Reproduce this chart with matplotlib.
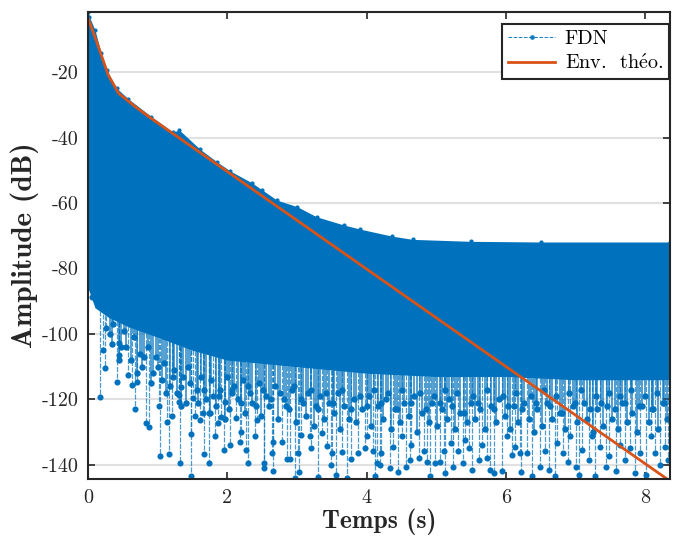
import numpy as np
import matplotlib.pyplot as plt
from matplotlib.lines import Line2D

plt.rcParams['font.family'] = ['cmr10', 'DejaVu Serif']
plt.rcParams['mathtext.fontset'] = 'cm'
plt.rcParams['axes.unicode_minus'] = False
plt.rcParams['axes.formatter.use_mathtext'] = False

# theoretical envelope (s, dB)
env_t = [0, 0.15, 0.29, 0.44, 0.68, 0.89, 2.0, 4.0, 6.0, 8.35]
env_db = [-3.5, -12.3, -20.9, -26.5, -30.6, -33.9, -50.4, -80.2, -110.0, -144.9]

# FDN response: upper edge of the samples
fdn_top_t = [0, 0.02, 0.1, 0.19, 0.27, 0.41, 0.58, 0.91, 1.22, 1.31, 1.61, 1.85,
             2.04, 2.35, 2.5, 2.71, 3.0, 3.28, 3.67, 3.91, 4.36, 4.66, 5.49, 6.5, 8.35]
fdn_top_db = [-1.6, -3.1, -7.2, -14.2, -19.4, -24.9, -28.2, -33.6, -38.3, -37.7, -43.6, -47.4,
              -50.2, -53.8, -56.0, -59.1, -61.1, -64.2, -66.7, -68.0, -70.1, -71.1, -71.7, -71.9, -71.9]

# lower edge of the dense part
fdn_floor_t = [0, 0.1, 0.3, 0.6, 1.0, 1.5, 2.0, 3.0, 4.0, 5.0, 6.0, 7.0, 8.35]
fdn_floor_db = [-86, -92, -95, -98, -101, -105, -108, -110, -112, -113, -113, -114, -114]

# isolated deep samples
deep_t = [0.05, 0.14, 0.17, 0.22, 0.24, 0.26, 0.42, 0.44, 0.44, 0.57, 0.63, 0.68, 0.70, 0.83,
          0.88, 1.03, 1.02, 1.13, 1.16, 1.20, 1.30, 1.31, 1.32, 1.33, 1.48, 1.48, 1.50, 1.53,
          1.60, 1.65, 1.67, 1.73, 1.74, 1.80, 1.82, 1.86, 1.91, 1.95, 1.96, 2.04, 2.06, 2.12,
          2.18, 2.19, 2.27, 2.29, 2.39, 2.42, 2.52, 2.53, 2.65, 2.64, 2.66, 2.78, 2.85, 2.90,
          2.97, 3.03, 3.02, 3.06, 3.19, 3.20, 3.30, 3.36, 3.43, 3.50, 3.49, 3.56, 3.64, 3.71,
          3.77, 3.88, 3.97, 4.00, 4.09, 4.12, 4.14, 4.19, 4.21, 4.33, 4.38, 4.45, 4.50, 4.57,
          4.62, 4.64, 4.75, 4.82, 4.86, 4.91, 4.98, 5.05, 5.11, 5.12, 5.21, 5.24, 5.31, 5.38,
          5.41, 5.47, 5.51, 5.61, 5.65, 5.73, 5.77, 5.82, 5.94, 6.01, 6.08, 6.13, 6.20, 6.22,
          6.30, 6.37, 6.49, 6.56, 6.61, 6.70, 6.73, 6.82, 6.89, 6.92, 7.00, 7.04, 7.09, 7.19,
          7.23, 7.28, 7.35, 7.43, 7.47, 7.57, 7.64, 7.71, 7.78, 7.85, 7.92, 8.01, 8.08, 8.14,
          8.21, 8.28, 8.33]
deep_db = [-88.6, -90.1, -119.3, -104.9, -110.5, -98.3, -114.8, -102.8, -106.4, -112.5, -115.6,
           -123.0, -114.7, -127.3, -128.3, -137.2, -121.9, -126.8, -136.6, -125.0, -118.6, -120.7,
           -139.5, -116.1, -143.5, -130.5, -119.6, -125.2, -126.2, -124.2, -136.6, -124.2, -139.3,
           -119.1, -131.3, -127.3, -125.4, -135.4, -120.7, -133.9, -117.1, -125.7, -132.9, -129.8,
           -135.4, -139.3, -131.3, -126.2, -139.3, -141.0, -141.8, -136.4, -132.9, -133.1, -138.3,
           -138.3, -143.9, -142.3, -136.4, -130.8, -131.3, -134.9, -143.8, -130.3, -134.1, -136.4,
           -140.0, -143.0, -136.2, -144.0, -138.3, -136.4, -134.9, -131.3, -135.9, -143.5, -139.5,
           -140.0, -136.4, -141.0, -134.4, -142.3, -131.3, -140.5, -138.5, -133.9, -138.0, -135.9,
           -139.0, -143.5, -139.3, -139.0, -135.9, -142.5, -133.4, -140.5, -135.9, -139.5, -132.4,
           -134.9, -141.5, -138.5, -133.9, -138.0, -141.5, -142.5, -142.0, -131.3, -136.9, -134.4,
           -136.4, -142.3, -136.4, -143.5, -140.5, -135.9, -141.5, -143.5, -133.4, -136.4, -139.0,
           -131.3, -140.5, -143.0, -135.4, -138.5, -131.3, -143.5, -134.4, -140.5, -137.4, -142.0,
           -133.9, -138.5, -134.9, -142.5, -136.4, -143.0, -131.3, -136.4, -140.0, -134.4, -138.5]

# samples just below the dense part
fringe_t = [0.32, 0.35, 0.36, 0.45, 0.48, 0.52, 0.55, 0.61, 0.66, 0.70, 0.74, 0.78, 0.81, 0.86,
            0.90, 0.93, 0.97, 1.00, 1.06, 1.09, 1.12, 1.17, 1.22, 1.24, 1.27, 1.34, 1.36, 1.41,
            1.44, 1.46, 1.56, 1.58, 1.62, 1.66, 1.69, 1.75, 1.77, 1.84, 1.88, 1.89, 1.97, 1.99,
            2.02, 2.07, 2.09, 2.15, 2.20, 2.22, 2.25, 2.30, 2.33, 2.36, 2.41, 2.45, 2.48, 2.51,
            2.56, 2.60, 2.63, 2.69, 2.73, 2.76, 2.81, 2.84, 2.88, 2.93, 2.96, 2.99, 3.05, 3.09,
            3.13, 3.16, 3.20, 3.24, 3.27, 3.30, 3.33, 3.39, 3.42, 3.46, 3.51, 3.53, 3.59, 3.62,
            3.65, 3.68, 3.74, 3.78, 3.81, 3.85, 3.90, 3.93, 4.00, 4.03, 4.06, 4.10, 4.16, 4.20,
            4.24, 4.28, 4.31, 4.35, 4.41, 4.44, 4.48, 4.51, 4.54, 4.60, 4.63, 4.68, 4.72, 4.76,
            4.79, 4.85, 4.89, 4.94, 4.97, 5.01, 5.05, 5.08, 5.13, 5.15, 5.18, 5.23, 5.27, 5.30,
            5.34, 5.39, 5.44, 5.49, 5.52, 5.56, 5.60, 5.63, 5.69, 5.72, 5.79, 5.83, 5.86, 5.90,
            5.95, 5.98, 6.02, 6.05, 6.11, 6.14, 6.17, 6.23, 6.26, 6.33, 6.36, 6.40, 6.43, 6.45,
            6.52, 6.55, 6.58, 6.63, 6.66, 6.72, 6.77, 6.80, 6.85, 6.90, 6.96, 6.99, 7.02, 7.07,
            7.12, 7.16, 7.20, 7.25, 7.29, 7.31, 7.36, 7.39, 7.45, 7.48, 7.52, 7.56, 7.60, 7.63,
            7.67, 7.70, 7.74, 7.79, 7.81, 7.88, 7.90, 7.95, 7.99, 8.05, 8.09, 8.11, 8.16, 8.18,
            8.25, 8.27, 8.31]
fringe_db = [-100, -103, -97, -108, -104, -99, -104, -108, -101, -112, -106, -110, -107, -104,
             -115, -112, -107, -110, -114, -109, -118, -116, -113, -111, -118, -122, -113, -121,
             -110, -115, -117, -121, -113, -117, -120, -124, -114, -122, -119, -117, -126, -113,
             -123, -118, -116, -120, -121, -114, -124, -116, -118, -121, -122, -115, -125, -117,
             -119, -122, -120, -116, -126, -118, -120, -122, -123, -117, -116, -127, -120, -121,
             -125, -118, -117, -128, -122, -123, -119, -126, -118, -121, -121, -124, -118, -129,
             -117, -122, -126, -123, -120, -127, -119, -123, -122, -119, -128, -117, -122, -121,
             -126, -120, -118, -129, -123, -123, -127, -117, -121, -125, -121, -119, -130, -118,
             -124, -123, -127, -121, -119, -128, -121, -123, -117, -126, -120, -122, -129, -118,
             -124, -124, -127, -121, -119, -126, -121, -123, -129, -117, -122, -123, -127, -120,
             -119, -125, -122, -129, -122, -118, -127, -123, -121, -126, -119, -130, -121, -123,
             -128, -117, -121, -122, -126, -119, -124, -124, -129, -118, -122, -121, -127, -117,
             -121, -126, -123, -130, -119, -123, -121, -128, -122, -118, -126, -123, -129, -119,
             -121, -121, -127, -117, -124, -130, -122, -122, -119, -127, -123, -123, -118, -129,
             -121, -121, -126]

blue = '#0072BD'
orange = '#D95319'

fig = plt.figure(figsize=(6.75, 5.4), dpi=100)
ax = fig.add_axes([0.1304, 0.113, 0.862, 0.865])

# dense body of the response
grid_t = np.union1d(fdn_top_t, fdn_floor_t)
top_i = np.interp(grid_t, fdn_top_t, fdn_top_db)
floor_i = np.interp(grid_t, fdn_floor_t, fdn_floor_db)
ax.fill_between(grid_t, floor_i, top_i, color=blue, lw=0, zorder=2)
ax.plot(fdn_top_t, fdn_top_db, 'o', color=blue, ms=3.0, mew=0, zorder=2)

# samples below it
start_f = np.interp(fringe_t, fdn_floor_t, fdn_floor_db) + 4
ax.vlines(fringe_t, start_f, fringe_db, color=blue, lw=1.1, alpha=0.85, zorder=2)
start_d = np.interp(deep_t, fdn_floor_t, fdn_floor_db) + 4
ax.vlines(deep_t, start_d, deep_db, color=blue, lw=0.9, alpha=0.7,
          linestyles=(0, (4, 1.2)), zorder=2)
ax.plot(fringe_t, fringe_db, 'o', color=blue, ms=4.6, mew=0, zorder=2)
ax.plot(deep_t, deep_db, 'o', color=blue, ms=4.4, mew=0, zorder=2)

ax.plot(env_t, env_db, color=orange, lw=2, zorder=3)

ax.set_xlim(0, 8.35)
ax.set_ylim(-144.3, -1.6)
ax.set_xticks([0, 2, 4, 6, 8])
ax.set_yticks([-140, -120, -100, -80, -60, -40, -20])
ax.yaxis.grid(True, color='#e1e1e1', lw=1.5)
ax.set_axisbelow(True)
ax.tick_params(direction='in', top=True, right=True, length=5, width=1.2,
               labelsize=14.5, colors='#262626', pad=7)
for s in ax.spines.values():
    s.set_linewidth(1.5)
    s.set_color('#262626')
    s.set_zorder(5)

ax.set_xlabel('Temps (s)', family='cmb10', fontsize=18.5, color='#262626', labelpad=1)
ax.set_ylabel('Amplitude (dB)', family='cmb10', fontsize=21, color='#262626', labelpad=2)

handles = [Line2D([], [], color=blue, lw=0.7, ls='--', marker='o', ms=3.4, mew=0, alpha=0.9),
           Line2D([], [], color=orange, lw=2)]
leg = ax.legend(handles, ['FDN', r'Env.  th$\acute{\mathrm{e}}$o.'], loc='upper right',
                bbox_to_anchor=(1.006, 0.983), borderaxespad=0.2, fontsize=14.5,
                fancybox=False, framealpha=1, edgecolor='#262626',
                handlelength=2.3, handletextpad=0.5, borderpad=0.3, labelspacing=0.3)
leg.get_frame().set_linewidth(1.5)

fig.savefig('out.png', dpi=100)
